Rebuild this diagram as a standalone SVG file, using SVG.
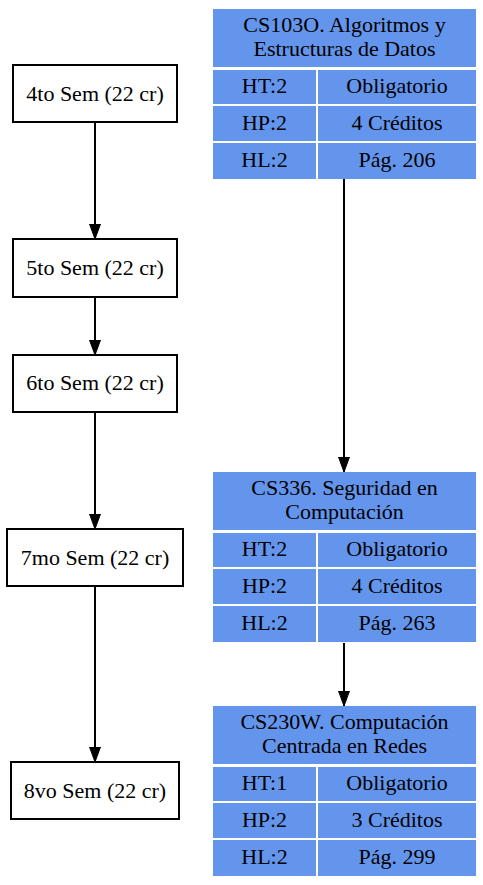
<svg xmlns="http://www.w3.org/2000/svg" width="483" height="885" viewBox="0 0 483 885">
<style>
text{font-family:"Liberation Serif","Times New Roman",Times,serif;font-size:22px;fill:#000;text-anchor:middle}
.sem{fill:#fff;stroke:#000;stroke-width:2}
.cell{fill:#6495ED}
.edge{stroke:#000;stroke-width:2;fill:none}
</style>
<defs>
<marker id="arr" markerUnits="userSpaceOnUse" markerWidth="16" markerHeight="12" refX="15" refY="5.5" orient="auto">
<path d="M0,0 L15,5.5 L0,11 z" fill="#000" stroke="#000" stroke-width="1"/>
</marker>
</defs>
<rect width="483" height="885" fill="#fff"/>
<g id="connectors">
<line class="edge" x1="95" y1="122" x2="95" y2="239" marker-end="url(#arr)"/>
<line class="edge" x1="95" y1="297" x2="95" y2="355" marker-end="url(#arr)"/>
<line class="edge" x1="95" y1="412" x2="95" y2="529" marker-end="url(#arr)"/>
<line class="edge" x1="95" y1="586" x2="95" y2="762" marker-end="url(#arr)"/>
<line class="edge" x1="344" y1="179" x2="344" y2="472" marker-end="url(#arr)"/>
<line class="edge" x1="344" y1="643" x2="344" y2="706" marker-end="url(#arr)"/>
</g>
<g id="sem4">
<rect class="sem" x="13" y="65" width="164" height="57"/>
<text x="95" y="101">4to Sem (22 cr)</text>
</g>
<g id="sem5">
<rect class="sem" x="13" y="239" width="164" height="58"/>
<text x="95" y="275">5to Sem (22 cr)</text>
</g>
<g id="sem6">
<rect class="sem" x="13" y="355" width="164" height="57"/>
<text x="95" y="390">6to Sem (22 cr)</text>
</g>
<g id="sem7">
<rect class="sem" x="7" y="529" width="176" height="57"/>
<text x="95" y="565">7mo Sem (22 cr)</text>
</g>
<g id="sem8">
<rect class="sem" x="11" y="762" width="168" height="57"/>
<text x="95" y="798">8vo Sem (22 cr)</text>
</g>
<g id="CS103O" transform="translate(0,0)">
<rect class="cell" x="213" y="9" width="263" height="58"/>
<rect class="cell" x="213" y="70" width="103" height="34"/>
<rect class="cell" x="318" y="70" width="158" height="34"/>
<rect class="cell" x="213" y="106" width="103" height="35"/>
<rect class="cell" x="318" y="106" width="158" height="35"/>
<rect class="cell" x="213" y="143" width="103" height="36"/>
<rect class="cell" x="318" y="143" width="158" height="36"/>
<text x="344.5" y="32">CS103O. Algoritmos y</text>
<text x="344.5" y="56">Estructuras de Datos</text>
<text x="264.5" y="93">HT:2</text>
<text x="397" y="93">Obligatorio</text>
<text x="264.5" y="130">HP:2</text>
<text x="397" y="130">4 Créditos</text>
<text x="264.5" y="167">HL:2</text>
<text x="397" y="167">Pág. 206</text>
</g>
<g id="CS336" transform="translate(0,463)">
<rect class="cell" x="213" y="9" width="263" height="58"/>
<rect class="cell" x="213" y="70" width="103" height="34"/>
<rect class="cell" x="318" y="70" width="158" height="34"/>
<rect class="cell" x="213" y="106" width="103" height="35"/>
<rect class="cell" x="318" y="106" width="158" height="35"/>
<rect class="cell" x="213" y="143" width="103" height="36"/>
<rect class="cell" x="318" y="143" width="158" height="36"/>
<text x="344.5" y="32">CS336. Seguridad en</text>
<text x="344.5" y="56">Computación</text>
<text x="264.5" y="93">HT:2</text>
<text x="397" y="93">Obligatorio</text>
<text x="264.5" y="130">HP:2</text>
<text x="397" y="130">4 Créditos</text>
<text x="264.5" y="167">HL:2</text>
<text x="397" y="167">Pág. 263</text>
</g>
<g id="CS230W" transform="translate(0,697)">
<rect class="cell" x="213" y="9" width="263" height="58"/>
<rect class="cell" x="213" y="70" width="103" height="34"/>
<rect class="cell" x="318" y="70" width="158" height="34"/>
<rect class="cell" x="213" y="106" width="103" height="35"/>
<rect class="cell" x="318" y="106" width="158" height="35"/>
<rect class="cell" x="213" y="143" width="103" height="36"/>
<rect class="cell" x="318" y="143" width="158" height="36"/>
<text x="344.5" y="32">CS230W. Computación</text>
<text x="344.5" y="56">Centrada en Redes</text>
<text x="264.5" y="93">HT:1</text>
<text x="397" y="93">Obligatorio</text>
<text x="264.5" y="130">HP:2</text>
<text x="397" y="130">3 Créditos</text>
<text x="264.5" y="167">HL:2</text>
<text x="397" y="167">Pág. 299</text>
</g>
</svg>
